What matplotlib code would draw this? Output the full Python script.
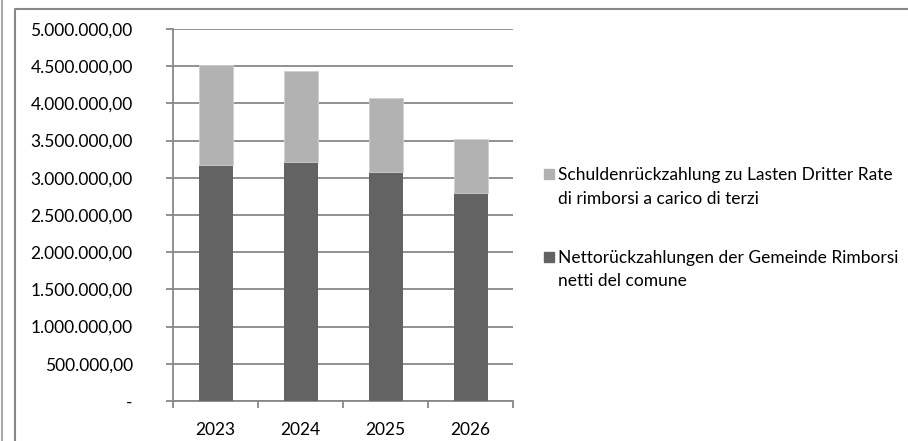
import matplotlib
matplotlib.use("Agg")
import matplotlib.pyplot as plt
from matplotlib.patches import Rectangle
from matplotlib.lines import Line2D
import numpy as np

years = ["2023", "2024", "2025", "2026"]
netto = [3170000, 3210000, 3080000, 2800000]
dritte = [1350000, 1225000, 990000, 720000]
y_ticks = [0, 500000, 1000000, 1500000, 2000000, 2500000, 3000000, 3500000, 4000000, 4500000, 5000000]
lbl_netto = ["Nettorückzahlungen der Gemeinde Rimborsi", "netti del comune"]
lbl_dritte = ["Schuldenrückzahlung zu Lasten Dritter Rate", "di rimborsi a carico di terzi"]

plt.rcParams['font.family'] = ['Lato', 'DejaVu Sans']

DARK = '#636363'
LIGHT = '#b2b2b2'
GRID = '#888888'

def fmt(v):
    if v == 0:
        return "-"
    s = f"{v:,.2f}"
    return s.replace(",", "X").replace(".", ",").replace("X", ".")

W, H = 908, 441
fig = plt.figure(figsize=(W / 100, H / 100), dpi=100)
ax = fig.add_axes([173 / W, 1 - 401 / H, 340 / W, 372 / H])

x = np.arange(len(years))
ax.bar(x, netto, width=0.4, color=DARK, zorder=3)
ax.bar(x, dritte, width=0.4, bottom=netto, color=LIGHT, edgecolor='#d0d0d0', linewidth=0.6, zorder=3)

ax.set_xlim(-0.5, len(years) - 0.5)
ax.set_ylim(0, 5000000)
ax.set_yticks(y_ticks)
ax.set_yticklabels([fmt(v) for v in y_ticks])
ax.yaxis.grid(True, color=GRID, linewidth=1.3, zorder=0)

ax.set_xticks(x)
ax.set_xticklabels(years)
ax.set_xticks(np.arange(-0.5, len(years)), minor=True)
ax.tick_params(axis='x', which='major', length=0, pad=15, labelsize=12.5)
ax.tick_params(axis='x', which='minor', length=5, color=GRID, width=1.3)
ax.tick_params(axis='y', length=5, color=GRID, width=1.3, pad=24, labelsize=12.5)

for side in ['top', 'right']:
    ax.spines[side].set_visible(False)
for side in ['left', 'bottom']:
    ax.spines[side].set_color(GRID)
    ax.spines[side].set_linewidth(1.3)

# legend, drawn by hand so the key square sits next to the first line
entries = [(LIGHT, lbl_dritte, 180), (DARK, lbl_netto, 263)]
for col, lines, base in entries:
    fig.add_artist(Rectangle((544 / W, 1 - (base - 1) / H), 10 / W, 10 / H,
                             color=col, transform=fig.transFigure))
    for i, line in enumerate(lines):
        fig.text(558 / W, 1 - (base + 23.5 * i) / H, line, fontsize=12.5,
                 va='baseline', ha='left')

# outer frame lines
fig.add_artist(Line2D([15 / W, 15 / W, 1], [0, 1 - 8.5 / H, 1 - 8.5 / H],
                      color=GRID, linewidth=1.5, transform=fig.transFigure))
fig.add_artist(Line2D([1.5 / W, 1.5 / W], [0, 1],
                      color='#aaaaaa', linewidth=1.5, transform=fig.transFigure))

fig.savefig("out.png", dpi=100)
